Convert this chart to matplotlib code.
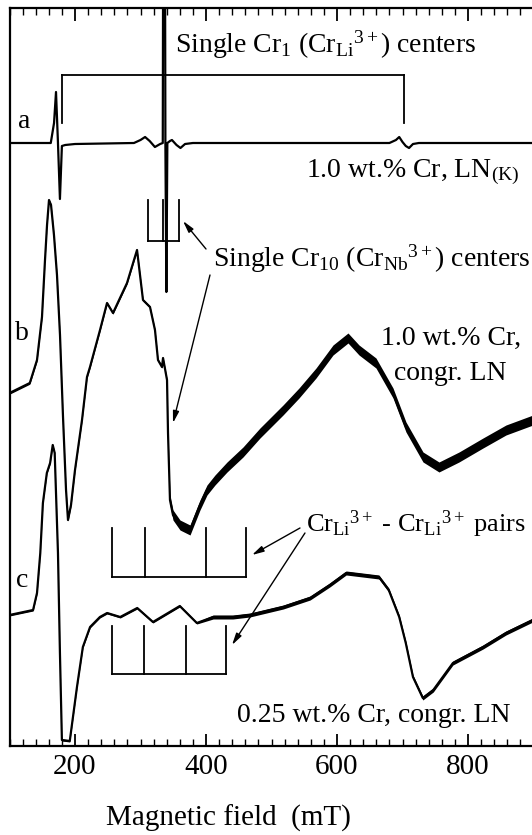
import numpy as np
import matplotlib.pyplot as plt

plt.rcParams['font.family'] = 'Liberation Serif'
plt.rcParams['mathtext.fontset'] = 'custom'
plt.rcParams['mathtext.rm'] = 'Liberation Serif'
plt.rcParams['mathtext.it'] = 'Liberation Serif:italic'

# EPR spectra, magnetic field in mT, signal in arbitrary units relative to baseline
field_a = [100, 163, 168, 171, 174, 177, 180, 185, 200, 290, 300, 307, 314, 322, 330, 334,
           336, 338, 339.5, 341, 345, 348, 355, 361, 368, 380, 680, 690, 695, 700, 705, 710, 716, 725, 900]
sig_a = [0, 0, 20, 51, 0, -56, -3, -2, -1, 0, 3, 6, 2, -4, -1, 0,
         700, 0, -149, 0, 2, 3, -2, -5, -1, 0, 0, 3, 6, 1, -3, -5, -1, 0, 0]

field_b = [100, 131, 142, 149.6, 154.2, 157.3, 160.3, 163.4, 167.9, 172.5, 177.1, 181.7, 186.3,
           189.3, 193.9, 200, 210.7, 218.3, 222.9, 238.2, 248.9, 258, 279.4, 294.7, 303.8, 314.5,
           322.1, 326.7, 332.8, 334.4, 340.5, 342, 345, 349.6, 360.3, 375.6, 390.8, 401.5, 413.7,
           432.1, 456.5, 482.4, 517.6, 542, 568, 593.9, 616.8, 633.6, 659.5, 685.5, 705.3, 731.3,
           755.7, 786.3, 822.9, 858, 899.2]
sig_b = [0, 10, 33, 76, 133, 168, 193, 188, 158, 118, 58, -24, -97,
         -127, -112, -77, -27, 16, 26, 63, 90, 80, 110, 143, 93, 86,
         63, 33, 26, 35, 13, -40, -107, -122, -132, -137, -112, -97, -87,
         -74, -59, -40, -17, 0, 20, 43, 55, 43, 30, 0, -34, -64,
         -74, -64, -50, -37, -27]

field_c = [100, 136, 142, 147, 151, 157, 162, 166, 169, 174, 177, 180, 192, 203, 212, 223,
           238, 249, 269, 295, 319, 360, 386, 411, 441, 467, 518, 559, 589, 614, 664, 679,
           695, 705, 716, 731, 747, 777, 823, 858, 899]
sig_c = [0, 5, 22, 62, 112, 142, 152, 170, 162, 62, -38, -125, -126, -72, -32, -12,
         -2, 2, -2, 7, -7, 9, -8, -2, -2, 0, 8, 17, 30, 42, 38, 25,
         -2, -28, -62, -83, -75, -48, -32, -18, -5]

# stick diagrams (line positions in mT)
sticks_cr1 = [180, 703]
sticks_cr10 = [311.5, 335, 358.8]
sticks_pairs_b = [256.5, 306.9, 400, 461]
sticks_pairs_c = [256.5, 305.3, 369.5, 430.5]

offset_a, offset_b, offset_c = 603, 353, 131

fig = plt.figure(figsize=(5.32, 8.35), dpi=100)
ax = fig.add_axes([9.5 / 532, 89 / 835, 524 / 532, 738 / 835])

ax.plot(field_a, np.array(sig_a) + offset_a, color='black', lw=1.6)

fb = np.array(field_b)
yb = np.array(sig_b) + offset_b
noise_b = np.where(fb > 343, 5.0, 1.2)
ax.fill_between(fb, yb - noise_b, yb + noise_b, color='black', lw=0)
ax.plot(fb, yb, color='black', lw=1.6)

fc = np.array(field_c)
yc = np.array(sig_c) + offset_c
noise_c = np.where(fc > 400, 2.0, 1.0)
ax.fill_between(fc, yc - noise_c, yc + noise_c, color='black', lw=0)
ax.plot(fc, yc, color='black', lw=1.6)


def bracket(xs, top, bottom, up=False):
    # horizontal bar with vertical legs
    bar = top if up else bottom
    ax.plot([xs[0], xs[-1]], [bar, bar], color='black', lw=1.3)
    for x in xs:
        ax.plot([x, x], [top, bottom], color='black', lw=1.3)


bracket(sticks_cr1, 671, 623, up=True)
bracket(sticks_cr10, 546, 505)
bracket(sticks_pairs_b, 218, 169)
bracket(sticks_pairs_c, 120, 72)

arrow = dict(arrowstyle='-|>,head_length=0.7,head_width=0.18', color='black', lw=1.0,
             shrinkA=0, shrinkB=0)
ax.annotate('', xy=(364.9, 525), xytext=(400, 497), arrowprops=arrow)
ax.annotate('', xy=(349.6, 323), xytext=(406.1, 471), arrowprops=arrow)
ax.annotate('', xy=(470.2, 191), xytext=(543.5, 218), arrowprops=arrow)
ax.annotate('', xy=(439.7, 101), xytext=(551.1, 213), arrowprops=arrow)

fs = 20
ax.text(352.7, 693, r'Single Cr$_1$ (Cr$_{\rm Li}{}^{3+}$) centers', fontsize=fs)
ax.text(552, 569, r'1.0 wt.% Cr, LN$_{\rm (K)}$', fontsize=fs)
ax.text(410, 479, r'Single Cr$_{10}$ (Cr$_{\rm Nb}{}^{3+}$) centers', fontsize=fs)
ax.text(667, 401, '1.0 wt.% Cr,', fontsize=fs)
ax.text(687, 366, 'congr. LN', fontsize=fs)
ax.text(552, 214, r'Cr$_{\rm Li}{}^{3+}$ - Cr$_{\rm Li}{}^{3+}$ pairs', fontsize=19)
ax.text(447, 24, '0.25 wt.% Cr, congr. LN', fontsize=fs)
ax.text(113, 618, 'a', fontsize=fs)
ax.text(108, 406, 'b', fontsize=fs)
ax.text(110, 159, 'c', fontsize=fs)

ax.set_xlim(100, 900)
ax.set_ylim(0, 738)
ax.set_xticks([200, 400, 600, 800])
ax.set_xticks(np.arange(100, 901, 20), minor=True)
ax.set_yticks([])
ax.tick_params(axis='x', which='both', direction='in', top=True, labelsize=21, pad=6)
ax.tick_params(axis='x', which='major', length=9, width=1.3)
ax.tick_params(axis='x', which='minor', length=5, width=1.0)
for s in ax.spines.values():
    s.set_linewidth(1.6)
ax.set_xlabel('Magnetic field  (mT)', fontsize=21, va='center')
ax.xaxis.set_label_coords(0.417, -0.0976)

fig.savefig('out.png', dpi=100)
